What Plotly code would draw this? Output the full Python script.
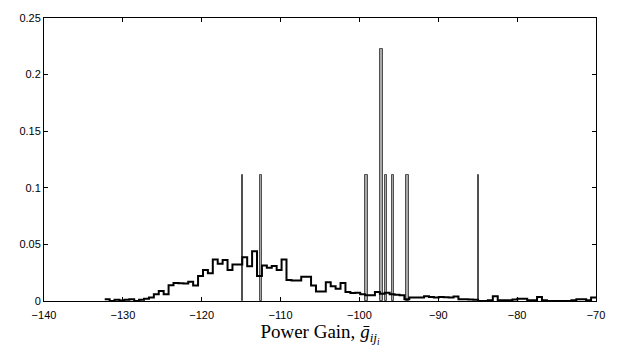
import numpy as np
import plotly.graph_objects as go

# ---- data ----
# Gray histogram (9 links): bar centres (dB) and relative frequency
bar_centers = [-114.85, -112.45, -99.1, -97.2, -96.6, -95.75, -93.9, -84.9]
bar_freqs   = [0.1111, 0.1111, 0.1111, 0.2222, 0.1111, 0.1111, 0.1111, 0.1111]

# Black stair histogram: 100 bins from -132.3 dB to -70 dB
hist_start = -132.3
hist_bin_width = 0.623
hist_freqs = [
    0.0016, 0.0000, 0.0010, 0.0005, 0.0010, 0.0015, 0.0000, 0.0010, 0.0020, 0.0030,
    0.0060, 0.0088, 0.0060, 0.0140, 0.0160, 0.0156, 0.0154, 0.0170, 0.0136, 0.0220,
    0.0274, 0.0245, 0.0366, 0.0329, 0.0363, 0.0274, 0.0323, 0.0323, 0.0386, 0.0306,
    0.0440, 0.0220, 0.0314, 0.0294, 0.0309, 0.0274, 0.0366, 0.0185, 0.0180, 0.0180,
    0.0214, 0.0214, 0.0136, 0.0085, 0.0085, 0.0165, 0.0130, 0.0108, 0.0160, 0.0079,
    0.0070, 0.0073, 0.0059, 0.0050, 0.0050, 0.0079, 0.0065, 0.0073, 0.0059, 0.0056,
    0.0050, 0.0016, 0.0030, 0.0030, 0.0030, 0.0042, 0.0036, 0.0030, 0.0036, 0.0033,
    0.0030, 0.0039, 0.0016, 0.0016, 0.0013, 0.0010, 0.0000, 0.0000, 0.0007, 0.0042,
    0.0007, 0.0007, 0.0007, 0.0013, 0.0020, 0.0019, 0.0007, 0.0007, 0.0036, 0.0007,
    0.0000, 0.0000, 0.0000, 0.0000, 0.0000, 0.0007, 0.0016, 0.0016, 0.0007, 0.0030,
]

x_ticks = [-140, -130, -120, -110, -100, -90, -80, -70]
y_ticks = [0, 0.05, 0.1, 0.15, 0.2, 0.25]
y_tick_labels = ["0", "0.05", "0.1", "0.15", "0.2", "0.25"]

# ---- figure ----
edges = hist_start + hist_bin_width * np.arange(len(hist_freqs) + 1)
stair_y = list(hist_freqs) + [hist_freqs[-1]]

bar_widths = [0.08, 0.3, 0.3, 0.4, 0.3, 0.3, 0.3, 0.08]

fig = go.Figure()
fig.add_trace(go.Bar(
    x=bar_centers, y=bar_freqs, width=bar_widths,
    marker=dict(color="#a8a8a8", line=dict(color="#505050", width=1)),
    showlegend=False,
))
fig.add_trace(go.Scatter(
    x=edges, y=stair_y, mode="lines", line=dict(color="black", width=2, shape="hv"),
    showlegend=False,
))

axis_common = dict(
    showgrid=False, zeroline=False, showline=True, linecolor="black", linewidth=1,
    mirror="ticks", ticks="inside", ticklen=4, tickcolor="black", tickwidth=1,
    tickfont=dict(family="Liberation Sans, Arial, sans-serif", size=11, color="black"),
)
fig.update_layout(
    width=617, height=349,
    margin=dict(l=44, r=20, t=12, b=47),
    paper_bgcolor="white", plot_bgcolor="white",
    bargap=0,
    xaxis=dict(range=[-140, -70], tickvals=x_ticks, ticklabelstandoff=4, **axis_common,
               title=dict(text="Power Gain, <i>ḡ</i><sub><i>ij</i><sub><i>i</i></sub></sub>",
                          font=dict(family="Liberation Serif, Times New Roman, serif", size=19, color="black"),
                          standoff=2)),
    yaxis=dict(range=[0, 0.25], tickvals=y_ticks, ticktext=y_tick_labels, **axis_common),
)

fig.write_html("out.html")
